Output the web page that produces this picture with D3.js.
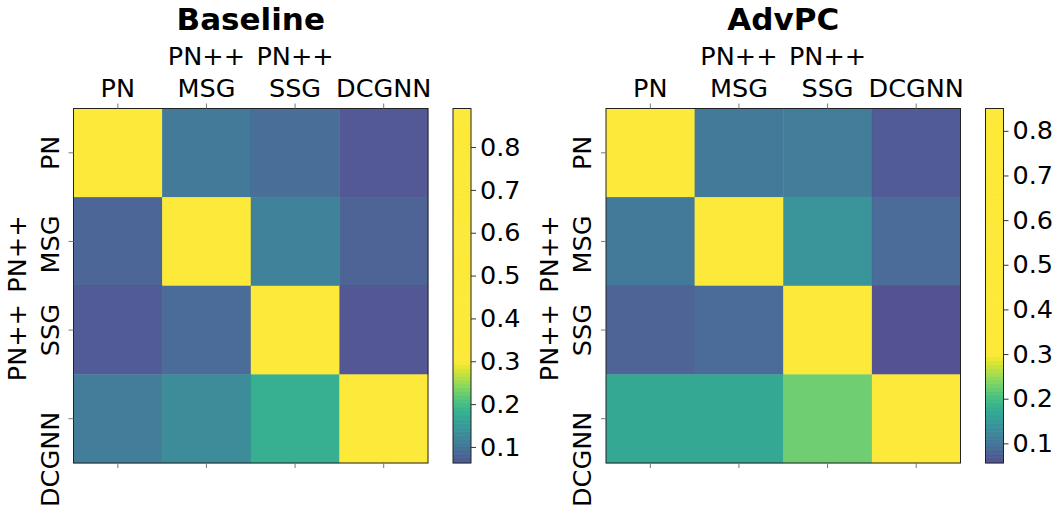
<!DOCTYPE html>
<html>
<head>
<meta charset="utf-8">
<script src="https://cdn.jsdelivr.net/npm/d3@7"></script>
<style>
    body { margin: 0; background: #fff; }
    text { font-family: "DejaVu Sans", sans-serif; fill: #000; }
</style>
</head>
<body>
<svg id="chart" width="1058" height="511"></svg>
<script>
// models (rows = source, cols = target)
const models = ["PN", "PN++\nMSG", "PN++\nSSG", "DCGNN"];

const baselineValues = [
    [0.89, 0.105, 0.090, 0.064],
    [0.080, 0.88, 0.115, 0.075],
    [0.066, 0.085, 0.87, 0.0625],
    [0.110, 0.130, 0.178, 0.88]
];

const advpcValues = [
    [0.85, 0.105, 0.108, 0.066],
    [0.105, 0.84, 0.141, 0.085],
    [0.075, 0.085, 0.84, 0.056],
    [0.168, 0.168, 0.225, 0.84]
];

const cbTicks = [0.1, 0.2, 0.3, 0.4, 0.5, 0.6, 0.7, 0.8];

const panels = [
    { title: "Baseline", values: baselineValues, left: 73.5 },
    { title: "AdvPC", values: advpcValues, left: 606 }
];

// viridis up to 0.3, everything above is yellow
const color = d3.scaleSequential(d3.interpolateViridis).domain([0, 0.3]).clamp(true);

const svg = d3.select("#chart");
const size = 354.5, plotTop = 108.5, cbGap = 25, cbWidth = 18, lineH = 32.5;
const fs = "25.5px";

panels.forEach(function (p) {
    let g = svg.append("g").attr("transform", "translate(" + p.left + "," + plotTop + ")");

    let x = d3.scaleBand().domain(d3.range(models.length)).range([0, size]);
    let y = d3.scaleBand().domain(d3.range(models.length)).range([0, size]);

    let cells = [];
    p.values.forEach((row, i) => row.forEach((v, j) => cells.push({ i: i, j: j, v: v })));

    g.selectAll(".cell").data(cells).enter()
        .append("rect")
        .attr("class", "cell")
        .attr("x", d => x(d.j))
        .attr("y", d => y(d.i))
        .attr("width", x.bandwidth() + 0.3)
        .attr("height", y.bandwidth() + 0.3)
        .attr("fill", d => color(d.v))
        .attr("fill-opacity", 0.9);

    // frame
    g.append("rect")
        .attr("width", size).attr("height", size)
        .attr("fill", "none").attr("stroke", "#222").attr("stroke-width", 1);

    // ticks top / bottom / left
    let centers = d3.range(models.length);
    g.selectAll(".tt").data(centers).enter().append("line")
        .attr("x1", d => x(d) + x.bandwidth() / 2).attr("x2", d => x(d) + x.bandwidth() / 2)
        .attr("y1", 0).attr("y2", -5).attr("stroke", "#777");
    g.selectAll(".tb").data(centers).enter().append("line")
        .attr("x1", d => x(d) + x.bandwidth() / 2).attr("x2", d => x(d) + x.bandwidth() / 2)
        .attr("y1", size).attr("y2", size + 5).attr("stroke", "#777");
    g.selectAll(".tl").data(centers).enter().append("line")
        .attr("y1", d => y(d) + y.bandwidth() / 2).attr("y2", d => y(d) + y.bandwidth() / 2)
        .attr("x1", 0).attr("x2", -5).attr("stroke", "#777");

    // top labels, bottom aligned
    let xl = g.selectAll(".xl").data(models).enter().append("text")
        .attr("text-anchor", "middle")
        .style("font-size", fs)
        .attr("transform", (d, k) => "translate(" + (x(k) + x.bandwidth() / 2) + ",-11.5)");
    xl.each(function (d) {
        let lines = d.split("\n");
        let t = d3.select(this);
        lines.forEach((s, n) => {
            t.append("tspan").attr("x", 0).attr("y", -(lines.length - 1 - n) * lineH).text(s);
        });
    });

    // left labels, rotated; lines end-aligned like matplotlib's ha="right"
    let yl = g.selectAll(".yl").data(models).enter().append("text")
        .style("font-size", fs);
    yl.each(function (d, k) {
        let lines = d.split("\n");
        let t = d3.select(this);
        let spans = lines.map((s, n) => t.append("tspan")
            .attr("y", -(lines.length - 1 - n) * (lineH + 0.5)).text(s));
        let w = d3.max(spans, s => s.node().getComputedTextLength());
        let anchor = "end", pos = 26;
        if (lines.length === 1 && w < 50) { anchor = "middle"; pos = 0; }
        else if (lines.length === 1) { pos = 7; }
        t.attr("text-anchor", anchor);
        spans.forEach(s => s.attr("x", pos));
        t.attr("transform", "translate(-15," + (y(k) + y.bandwidth() / 2) + ") rotate(-90)");
    });

    // title
    g.append("text")
        .attr("x", size / 2).attr("y", -78.5)
        .attr("text-anchor", "middle")
        .style("font-size", "31px").style("font-weight", "bold")
        .text(p.title);

    // colorbar
    let flat = p.values.flat();
    let cb = d3.scaleLinear().domain(d3.extent(flat)).range([size, 0]);
    let cg = g.append("g").attr("transform", "translate(" + (size + cbGap) + ",0)");
    let steps = 90;
    let bands = d3.range(steps).map(k => cb.domain()[0] + (cb.domain()[1] - cb.domain()[0]) * k / steps);
    let bh = size / steps;
    cg.selectAll(".band").data(bands).enter().append("rect")
        .attr("x", 0).attr("width", cbWidth)
        .attr("y", d => cb(d) - bh - 0.2)
        .attr("height", bh + 0.4)
        .attr("fill", d => color(d + (cb.domain()[1] - cb.domain()[0]) / steps / 2))
        .attr("fill-opacity", 0.9);
    cg.append("rect")
        .attr("width", cbWidth).attr("height", size)
        .attr("fill", "none").attr("stroke", "#222").attr("stroke-width", 1);

    let axis = d3.axisRight(cb).tickValues(cbTicks).tickSize(5).tickPadding(4).tickFormat(d3.format(".1f"));
    let ax = cg.append("g").attr("transform", "translate(" + cbWidth + ",0)").call(axis);
    ax.select(".domain").remove();
    ax.selectAll("line").attr("stroke", "#333");
    ax.selectAll("text").style("font-size", fs).style("font-family", "DejaVu Sans, sans-serif").attr("fill", "#000");
});
</script>
</body>
</html>
